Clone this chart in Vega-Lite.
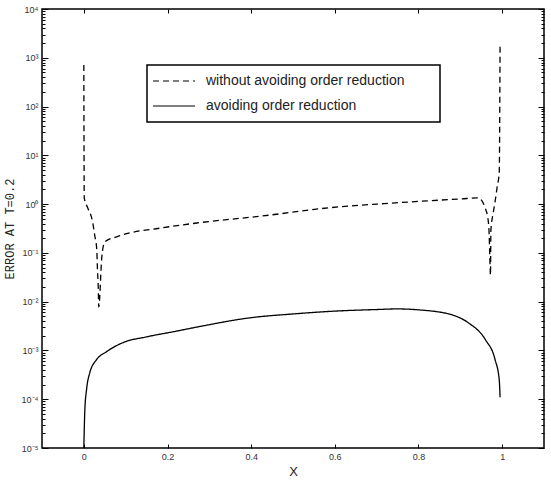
{
  "$schema": "https://vega.github.io/schema/vega-lite/v6.json",
  "width": 502,
  "height": 439,
  "autosize": {"type": "none"},
  "padding": {"left": 42, "top": 9, "right": 7, "bottom": 45},
  "background": "white",
  "config": {
    "view": {"stroke": "black", "strokeWidth": 1.5},
    "font": "Liberation Sans",
    "axis": {"domain": false, "grid": false, "labelFont": "Liberation Sans", "labelFontSize": 9, "labelColor": "#333", "tickColor": "black", "tickWidth": 1}
  },
  "data": {
    "values": [
      {"series": "without avoiding order reduction", "i": 1, "x": 0, "err": 710},
      {"series": "without avoiding order reduction", "i": 2, "x": 0.001, "err": 1.34},
      {"series": "without avoiding order reduction", "i": 3, "x": 0.0095, "err": 0.83},
      {"series": "without avoiding order reduction", "i": 4, "x": 0.021, "err": 0.43},
      {"series": "without avoiding order reduction", "i": 5, "x": 0.026, "err": 0.23},
      {"series": "without avoiding order reduction", "i": 6, "x": 0.031, "err": 0.115},
      {"series": "without avoiding order reduction", "i": 7, "x": 0.0326, "err": 0.045},
      {"series": "without avoiding order reduction", "i": 8, "x": 0.0345, "err": 0.02},
      {"series": "without avoiding order reduction", "i": 9, "x": 0.0357, "err": 0.0078},
      {"series": "without avoiding order reduction", "i": 10, "x": 0.043, "err": 0.083},
      {"series": "without avoiding order reduction", "i": 11, "x": 0.05, "err": 0.168},
      {"series": "without avoiding order reduction", "i": 12, "x": 0.0786, "err": 0.214},
      {"series": "without avoiding order reduction", "i": 13, "x": 0.11, "err": 0.257},
      {"series": "without avoiding order reduction", "i": 14, "x": 0.18, "err": 0.32},
      {"series": "without avoiding order reduction", "i": 15, "x": 0.27, "err": 0.41},
      {"series": "without avoiding order reduction", "i": 16, "x": 0.426, "err": 0.57},
      {"series": "without avoiding order reduction", "i": 17, "x": 0.586, "err": 0.84},
      {"series": "without avoiding order reduction", "i": 18, "x": 0.745, "err": 1.06},
      {"series": "without avoiding order reduction", "i": 19, "x": 0.902, "err": 1.28},
      {"series": "without avoiding order reduction", "i": 20, "x": 0.943, "err": 1.34},
      {"series": "without avoiding order reduction", "i": 21, "x": 0.9595, "err": 0.83},
      {"series": "without avoiding order reduction", "i": 22, "x": 0.967, "err": 0.43},
      {"series": "without avoiding order reduction", "i": 23, "x": 0.969, "err": 0.23},
      {"series": "without avoiding order reduction", "i": 24, "x": 0.97, "err": 0.115},
      {"series": "without avoiding order reduction", "i": 25, "x": 0.9714, "err": 0.045},
      {"series": "without avoiding order reduction", "i": 26, "x": 0.972, "err": 0.035},
      {"series": "without avoiding order reduction", "i": 27, "x": 0.9731, "err": 0.295},
      {"series": "without avoiding order reduction", "i": 28, "x": 0.9786, "err": 0.66},
      {"series": "without avoiding order reduction", "i": 29, "x": 0.983, "err": 1.11},
      {"series": "without avoiding order reduction", "i": 30, "x": 0.988, "err": 2.24},
      {"series": "without avoiding order reduction", "i": 31, "x": 0.993, "err": 4.4},
      {"series": "without avoiding order reduction", "i": 32, "x": 0.995, "err": 2000},
      {"series": "avoiding order reduction", "i": 1, "x": 0, "err": 0.00001},
      {"series": "avoiding order reduction", "i": 2, "x": 0.0024, "err": 0.00006},
      {"series": "avoiding order reduction", "i": 3, "x": 0.0064, "err": 0.000155},
      {"series": "avoiding order reduction", "i": 4, "x": 0.0143, "err": 0.00035},
      {"series": "avoiding order reduction", "i": 5, "x": 0.03, "err": 0.00064},
      {"series": "avoiding order reduction", "i": 6, "x": 0.054, "err": 0.00094},
      {"series": "avoiding order reduction", "i": 7, "x": 0.093, "err": 0.00144},
      {"series": "avoiding order reduction", "i": 8, "x": 0.15, "err": 0.0019},
      {"series": "avoiding order reduction", "i": 9, "x": 0.212, "err": 0.0024},
      {"series": "avoiding order reduction", "i": 10, "x": 0.269, "err": 0.003},
      {"series": "avoiding order reduction", "i": 11, "x": 0.4, "err": 0.0047},
      {"series": "avoiding order reduction", "i": 12, "x": 0.5, "err": 0.0056},
      {"series": "avoiding order reduction", "i": 13, "x": 0.6, "err": 0.0064},
      {"series": "avoiding order reduction", "i": 14, "x": 0.7, "err": 0.0069},
      {"series": "avoiding order reduction", "i": 15, "x": 0.75, "err": 0.0071},
      {"series": "avoiding order reduction", "i": 16, "x": 0.8, "err": 0.0068},
      {"series": "avoiding order reduction", "i": 17, "x": 0.879, "err": 0.0054},
      {"series": "avoiding order reduction", "i": 18, "x": 0.919, "err": 0.0037},
      {"series": "avoiding order reduction", "i": 19, "x": 0.96, "err": 0.00166},
      {"series": "avoiding order reduction", "i": 20, "x": 0.983, "err": 0.00065},
      {"series": "avoiding order reduction", "i": 21, "x": 0.993, "err": 0.00025},
      {"series": "avoiding order reduction", "i": 22, "x": 0.995, "err": 0.00011}
    ]
  },
  "layer": [
    {
      "mark": {"type": "line", "color": "black", "strokeWidth": 1.3, "interpolate": "monotone"},
      "encoding": {
        "x": {
          "field": "x", "type": "quantitative",
          "scale": {"domain": [-0.1, 1.1], "nice": false, "zero": false},
          "axis": {"orient": "bottom", "values": [0, 0.2, 0.4, 0.6, 0.8, 1], "format": "~g", "tickSize": -4, "labelPadding": 8, "title": "X", "titleFont": "Liberation Sans", "titleFontSize": 13, "titleFontWeight": "normal", "titleColor": "#222", "titlePadding": 4}
        },
        "y": {
          "field": "err", "type": "quantitative",
          "scale": {"type": "log", "domain": [0.00001, 10000], "nice": false},
          "axis": {
            "orient": "left",
            "values": [0.00001,0.00002,0.00003,0.00004,0.00005,0.00006,0.00007,0.00008,0.00009,0.0001,0.0002,0.0003,0.0004,0.0005,0.0006,0.0007,0.0008,0.0009,0.001,0.002,0.003,0.004,0.005,0.006,0.007,0.008,0.009,0.01,0.02,0.03,0.04,0.05,0.06,0.07,0.08,0.09,0.1,0.2,0.3,0.4,0.5,0.6,0.7,0.8,0.9,1,2,3,4,5,6,7,8,9,10,20,30,40,50,60,70,80,90,100,200,300,400,500,600,700,800,900,1000,2000,3000,4000,5000,6000,7000,8000,9000,10000],
            "labelExpr": "abs(log(datum.value)/LN10 - round(log(datum.value)/LN10)) < 0.001 ? '10' + (round(log(datum.value)/LN10) < 0 ? '⁻' : '') + ['⁰','¹','²','³','⁴','⁵','⁶','⁷','⁸','⁹'][abs(round(log(datum.value)/LN10))] : ''",
            "tickSize": {"condition": {"test": "abs(log(datum.value)/LN10 - round(log(datum.value)/LN10)) < 0.001", "value": -6}, "value": -3},
            "labelPadding": 10,
            "labelOverlap": false,
            "labelFlush": false,
            "title": "ERROR  AT  T=0.2",
            "titleFont": "Liberation Mono",
            "titleFontSize": 12,
            "titleFontWeight": "normal",
            "titleColor": "#222",
            "titlePadding": 5
          }
        },
        "strokeDash": {
          "field": "series", "type": "nominal",
          "scale": {"domain": ["without avoiding order reduction", "avoiding order reduction"], "range": [[6, 4], [1, 0]]},
          "legend": {
            "title": null,
            "orient": "none",
            "legendX": 105,
            "legendY": 56,
            "padding": 9,
            "strokeColor": "black",
            "fillColor": "white",
            "symbolType": "M-8.4,0H8.4M101.6,0",
            "symbolSize": 25,
            "symbolOffset": 11,
            "symbolStrokeColor": "black",
            "symbolStrokeWidth": 1.2,
            "labelFont": "Liberation Sans",
            "labelFontSize": 14,
            "labelColor": "#222",
            "labelOffset": 25,
            "rowPadding": 11,
            "labelLimit": 400,
            "encode": {"legend": {"update": {"strokeWidth": {"value": 1.5}}}}
          }
        },
        "order": {"field": "i", "type": "quantitative"}
      }
    },
    {
      "mark": {"type": "point", "opacity": 0},
      "encoding": {
        "x": {
          "field": "x", "type": "quantitative",
          "axis": {"orient": "top", "values": [0, 0.2, 0.4, 0.6, 0.8, 1], "labels": false, "tickSize": -4, "title": null}
        },
        "y": {
          "field": "err", "type": "quantitative",
          "axis": {
            "orient": "right",
            "values": [0.00001,0.00002,0.00003,0.00004,0.00005,0.00006,0.00007,0.00008,0.00009,0.0001,0.0002,0.0003,0.0004,0.0005,0.0006,0.0007,0.0008,0.0009,0.001,0.002,0.003,0.004,0.005,0.006,0.007,0.008,0.009,0.01,0.02,0.03,0.04,0.05,0.06,0.07,0.08,0.09,0.1,0.2,0.3,0.4,0.5,0.6,0.7,0.8,0.9,1,2,3,4,5,6,7,8,9,10,20,30,40,50,60,70,80,90,100,200,300,400,500,600,700,800,900,1000,2000,3000,4000,5000,6000,7000,8000,9000,10000],
            "labels": false,
            "tickSize": {"condition": {"test": "abs(log(datum.value)/LN10 - round(log(datum.value)/LN10)) < 0.001", "value": -6}, "value": -3},
            "title": null
          }
        }
      }
    }
  ],
  "resolve": {"axis": {"x": "independent", "y": "independent"}}
}
